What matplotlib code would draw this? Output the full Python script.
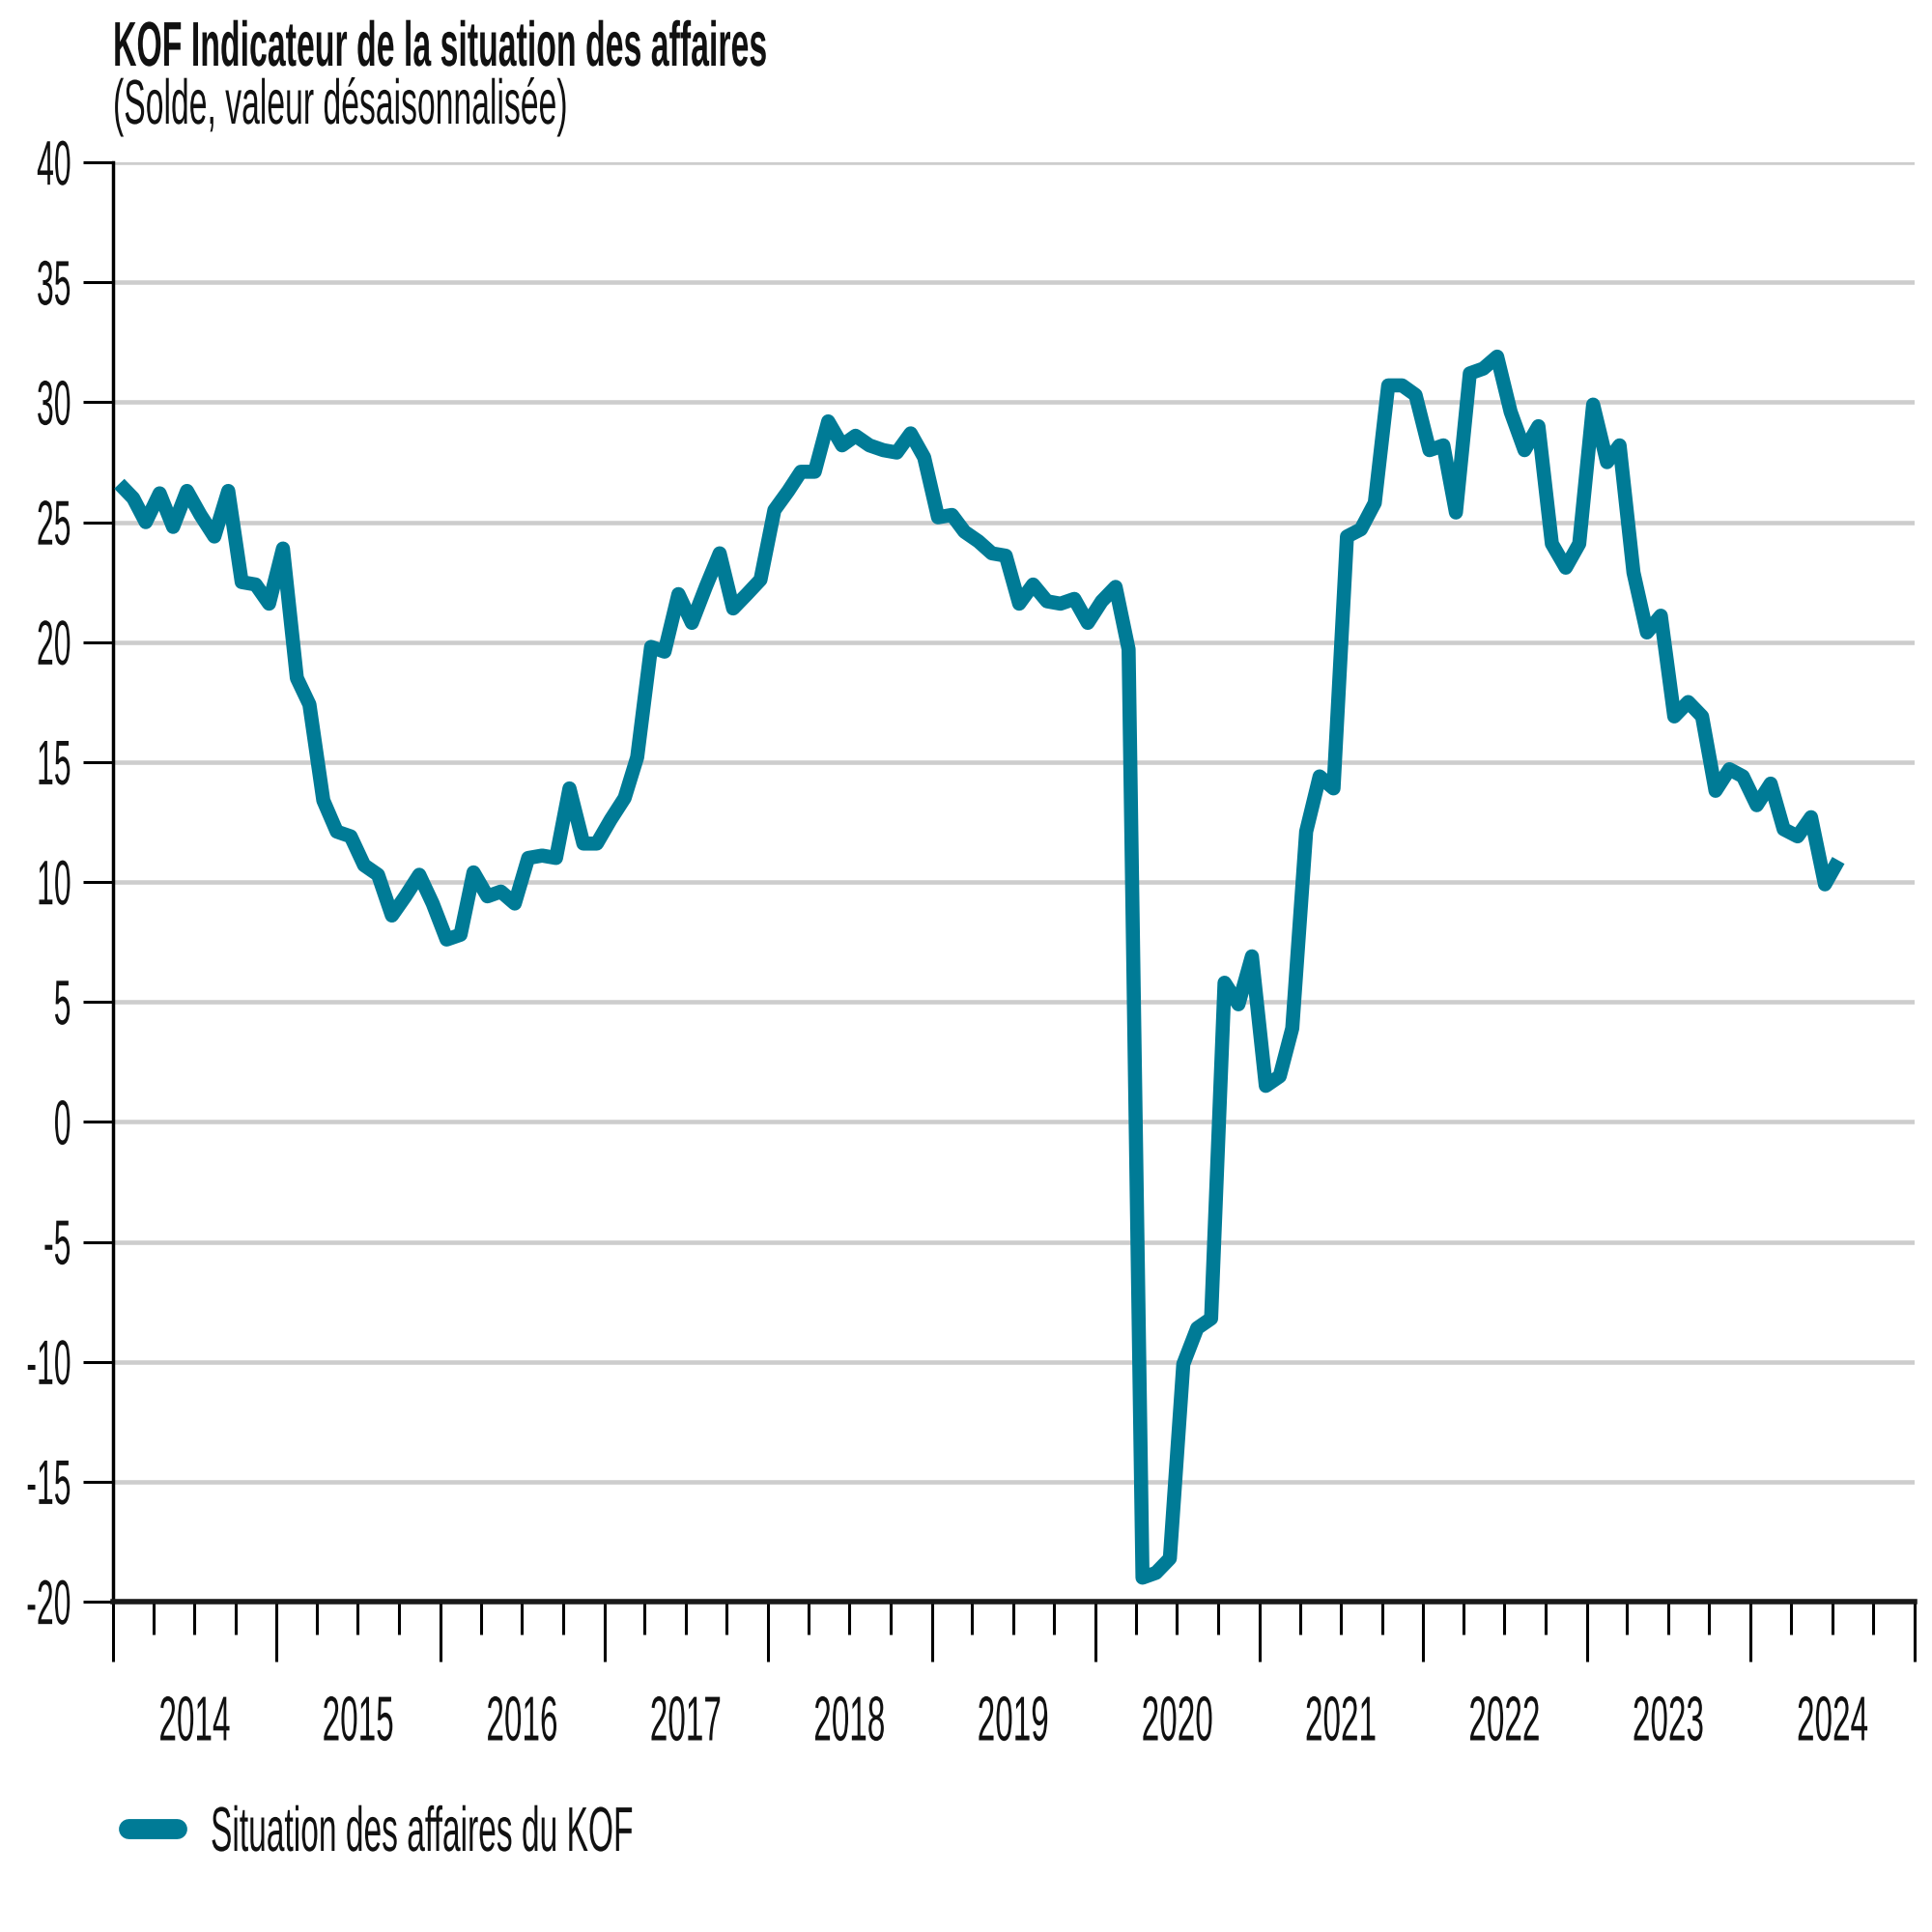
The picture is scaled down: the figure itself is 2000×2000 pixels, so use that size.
import matplotlib
matplotlib.use("Agg")
import numpy as np
import pandas as pd
import matplotlib.pyplot as plt
import matplotlib.dates as mdates
from matplotlib.patheffects import AbstractPathEffect
from matplotlib.transforms import Affine2D
from matplotlib.ticker import FuncFormatter, NullFormatter

# ---------------- data ----------------
TITLE = "KOF Indicateur de la situation des affaires"
SUBTITLE = "(Solde, valeur désaisonnalisée)"
SERIES_LABEL = "Situation des affaires du KOF"

first_month = "2014-01-01"
last_month = "2024-07-01"

kof_business_situation = [
    26.6, 26.0, 25.0, 26.2, 24.8, 26.3, 25.3, 24.4, 26.3, 22.5, 22.4, 21.6,   # 2014
    23.9, 18.5, 17.4, 13.4, 12.1, 11.9, 10.7, 10.3, 8.6, 9.4, 10.3, 9.1,      # 2015
    7.6, 7.8, 10.4, 9.4, 9.6, 9.1, 11.0, 11.1, 11.0, 13.9, 11.6, 11.6,        # 2016
    12.6, 13.5, 15.2, 19.8, 19.6, 22.0, 20.8, 22.3, 23.7, 21.4, 22.0, 22.6,   # 2017
    25.5, 26.3, 27.1, 27.1, 29.2, 28.2, 28.6, 28.2, 28.0, 27.9, 28.7, 27.7,   # 2018
    25.2, 25.3, 24.6, 24.2, 23.7, 23.6, 21.6, 22.4, 21.7, 21.6, 21.8, 20.8,   # 2019
    21.7, 22.3, 19.7, -19.0, -18.8, -18.2, -10.1, -8.6, -8.2, 5.8, 4.9, 6.9,  # 2020
    1.5, 1.9, 3.9, 12.1, 14.4, 13.9, 24.4, 24.7, 25.8, 30.7, 30.7, 30.3,      # 2021
    28.0, 28.2, 25.4, 31.2, 31.4, 31.9, 29.6, 28.0, 29.0, 24.1, 23.1, 24.1,   # 2022
    29.9, 27.5, 28.2, 22.9, 20.4, 21.1, 16.9, 17.5, 16.9, 13.8, 14.7, 14.4,   # 2023
    13.2, 14.1, 12.2, 11.9, 12.7, 9.9, 10.9,                                  # 2024
]

y_ticks = [-20, -15, -10, -5, 0, 5, 10, 15, 20, 25, 30, 35, 40]
y_tick_labels = ["-20", "-15", "-10", "-5", "0", "5", "10", "15", "20", "25", "30", "35", "40"]
year_labels = ["2014", "2015", "2016", "2017", "2018", "2019", "2020",
               "2021", "2022", "2023", "2024"]

# ---------------- style ----------------
TEAL = "#007b96"
GRID = "#cdcdcd"
FS = 47          # visual size of all texts (pt at 100 dpi)
FS_Y = 32        # layout size of y tick labels, scaled up vertically on draw
plt.rcParams["font.family"] = ["Liberation Sans", "DejaVu Sans"]


class Condense(AbstractPathEffect):
    """Draw text glyphs scaled (narrow face as in the reference)."""

    def __init__(self, sx=0.5, anchor="left", sy=1.0):
        super().__init__()
        self.sx = sx
        self.sy = sy
        self.anchor = anchor

    def draw_path(self, renderer, gc, tpath, affine, rgbFace=None):
        ext = tpath.get_extents(affine)
        if self.anchor == "left":
            x0 = affine.get_matrix()[0, 2]
        elif self.anchor == "right":
            x0 = ext.x1
        else:
            x0 = 0.5 * (ext.x0 + ext.x1)
        y0 = 0.5 * (ext.y0 + ext.y1)
        new = affine + Affine2D().translate(-x0, -y0).scale(self.sx, self.sy).translate(x0, y0)
        renderer.draw_path(gc, tpath, new, rgbFace)


W = H = 2000
fig = plt.figure(figsize=(20, 20), dpi=100)
ax_l, ax_r, ax_t, ax_b = 117, 1982, 168, 1658
ax = fig.add_axes([ax_l / W, 1 - ax_b / H, (ax_r - ax_l) / W, (ax_b - ax_t) / H])

months = pd.date_range(first_month, last_month, freq="MS")
x_pos = months + pd.Timedelta(days=14)
ax.plot(x_pos, kof_business_situation, color=TEAL, lw=10.5,
        solid_joinstyle="round", solid_capstyle="butt", zorder=3,
        label=SERIES_LABEL)

ax.set_xlim(pd.Timestamp("2014-01-01"), pd.Timestamp("2025-01-01"))
ax.set_ylim(-20, 40)

ax.set_yticks(y_ticks)
ax.set_yticklabels(y_tick_labels)
ax.yaxis.grid(True, color=GRID, lw=3.3, zorder=0)
ax.xaxis.grid(False)
ax.set_axisbelow(True)

ax.xaxis.set_major_locator(mdates.YearLocator())
ax.xaxis.set_major_formatter(NullFormatter())
ax.xaxis.set_minor_locator(mdates.MonthLocator(bymonth=[4, 7, 10]))
_labels = {int(s): s for s in year_labels}


def _year_fmt(v, pos):
    d = mdates.num2date(v)
    return _labels.get(d.year, "") if d.month == 7 else ""


ax.xaxis.set_minor_formatter(FuncFormatter(_year_fmt))

ax.tick_params(axis="x", which="major", length=44.6, width=2.2, color="black",
               direction="out")
ax.tick_params(axis="x", which="minor", length=24.5, width=2.2, color="black",
               direction="out", pad=45, labelsize=FS, labelcolor="#111111")
ax.tick_params(axis="y", which="major", length=22.3, width=2.2, color="black",
               direction="out", pad=8.6, labelsize=FS_Y, labelcolor="#111111")

for s in ("top", "right"):
    ax.spines[s].set_visible(False)
ax.spines["left"].set_linewidth(2.5)
ax.spines["left"].set_color("black")
ax.spines["bottom"].set_linewidth(4)
ax.spines["bottom"].set_color("#1a1a1a")

# titles
t1 = fig.text(ax_l / W, 1 - 68 / H, TITLE, fontsize=FS, fontweight="bold",
              ha="left", va="baseline", color="#111111")
t2 = fig.text(ax_l / W, 1 - 128 / H, SUBTITLE, fontsize=FS,
              ha="left", va="baseline", color="#111111")

# legend
leg = ax.legend(loc="center left", bbox_to_anchor=(132.5 / W, 1 - 1899 / H),
                bbox_transform=fig.transFigure, frameon=False, fontsize=FS,
                handlelength=0.77, handletextpad=0.54, borderpad=0,
                borderaxespad=0)
lh = leg.get_lines()[0]
lh.set_linewidth(15)
lh.set_solid_capstyle("round")
for t in leg.get_texts():
    t.set_color("#111111")

fig.canvas.draw()
renderer = fig.canvas.get_renderer()


def condense_to(txt, target_px, anchor="left"):
    w = txt.get_window_extent(renderer).width
    txt.set_path_effects([Condense(target_px / w, anchor)])


condense_to(t1, 676)
condense_to(t2, 470)
condense_to(leg.get_texts()[0], 437)

_ky = FS / FS_Y
for lbl in ax.get_yticklabels():
    lbl.set_path_effects([Condense(0.49 * _ky, "right", sy=_ky)])
for lbl in ax.get_xticklabels(minor=True):
    lbl.set_path_effects([Condense(0.51, "center")])

fig.savefig("out.png", dpi=100, facecolor="white")
